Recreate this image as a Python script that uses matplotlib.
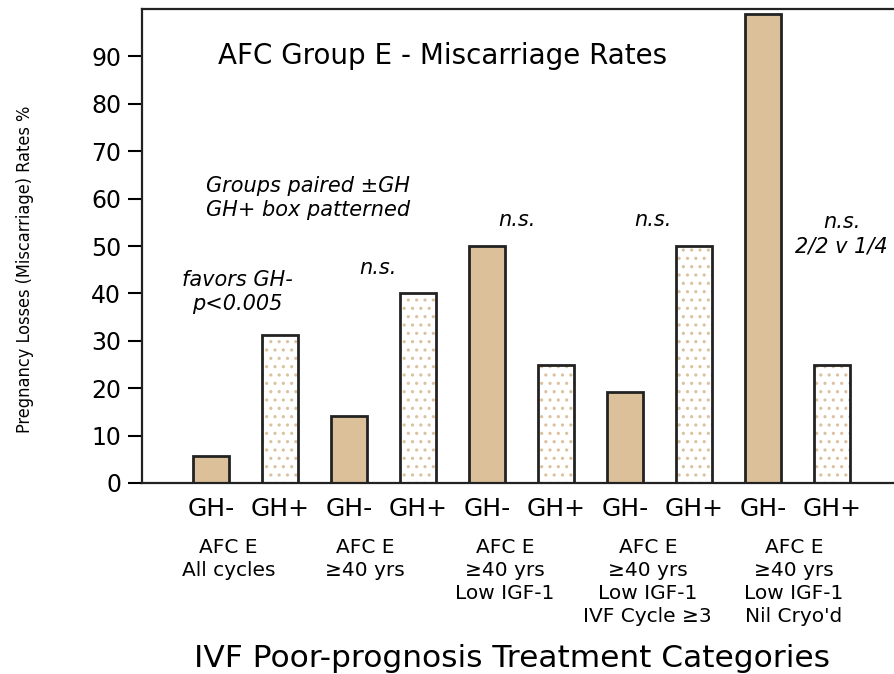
import matplotlib.pyplot as plt

plt.rcParams['font.family'] = ['DejaVu Sans']
plt.rcParams['hatch.linewidth'] = 1.1

# Данные
bar_labels = ["GH-", "GH+"] * 5
values = [5.8, 31.3, 14.2, 40, 50, 25, 19.1, 50, 99, 25]
group_labels = [
    "AFC E\nAll cycles",
    "AFC E\n≥40 yrs",
    "AFC E\n≥40 yrs\nLow IGF-1",
    "AFC E\n≥40 yrs\nLow IGF-1\nIVF Cycle ≥3",
    "AFC E\n≥40 yrs\nLow IGF-1\nNil Cryo'd",
]
y_ticks = [0, 10, 20, 30, 40, 50, 60, 70, 80, 90]

tan = '#DCC09A'

fig = plt.figure(figsize=(8.94, 6.74), dpi=100)
ax = fig.add_axes([142 / 894, (674 - 483) / 674, 759 / 894, 474 / 674])

x = list(range(len(values)))
for i, v in enumerate(values):
    if i % 2 == 0:
        ax.bar(i, v, width=0.52, color=tan, edgecolor='#222222', linewidth=2)
    else:
        # GH+ : белый со светлыми точками
        ax.bar(i, v, width=0.52, color='white', edgecolor='#DBC19D', hatch='..', linewidth=0)
        ax.bar(i, v, width=0.52, color='none', edgecolor='#222222', linewidth=2)

ax.set_xlim(-1, 10)
ax.set_ylim(0, 100)
ax.set_yticks(y_ticks)
ax.tick_params(axis='y', labelsize=17, length=10, width=1.5, pad=5)
ax.set_xticks(x)
ax.set_xticklabels(bar_labels, fontsize=18)
ax.tick_params(axis='x', length=0, pad=10)
for s in ax.spines.values():
    s.set_linewidth(1.6)
    s.set_color('#222222')

fig.text(25 / 894, 1 - 269 / 674, "Pregnancy Losses (Miscarriage) Rates %", rotation=90,
         ha='center', va='center', fontsize=13, family='DejaVu Sans', stretch='condensed')

# Подписи групп
offsets = [-0.25, -0.27, -0.24, -0.17, -0.05]
for g, lab in enumerate(group_labels):
    ax.text(2 * g + 0.5 + offsets[g], -11.5, lab, ha='center', va='top',
            fontsize=14.5, linespacing=1.28, clip_on=False)

ax.text(4.36, -37, "IVF Poor-prognosis Treatment Categories", ha='center', va='center',
        fontsize=22.5, clip_on=False)

ax.text(3.35, 90, "AFC Group E - Miscarriage Rates", ha='center', va='center', fontsize=20)
ax.text(1.4, 60.2, "Groups paired ±GH\nGH+ box patterned", ha='center', va='center',
        fontsize=15, style='italic', linespacing=1.25)
ax.text(0.38, 40.4, "favors GH-\np<0.005", ha='center', va='center',
        fontsize=15, style='italic', linespacing=1.25)
ax.text(2.42, 45.4, "n.s.", ha='center', va='center', fontsize=15, style='italic')
ax.text(4.43, 55.4, "n.s.", ha='center', va='center', fontsize=15, style='italic')
ax.text(6.4, 55.4, "n.s.", ha='center', va='center', fontsize=15, style='italic')
ax.text(9.14, 52.5, "n.s.\n2/2 v 1/4", ha='center', va='center',
        fontsize=15, style='italic', linespacing=1.25)

fig.savefig('out.png', dpi=100)
